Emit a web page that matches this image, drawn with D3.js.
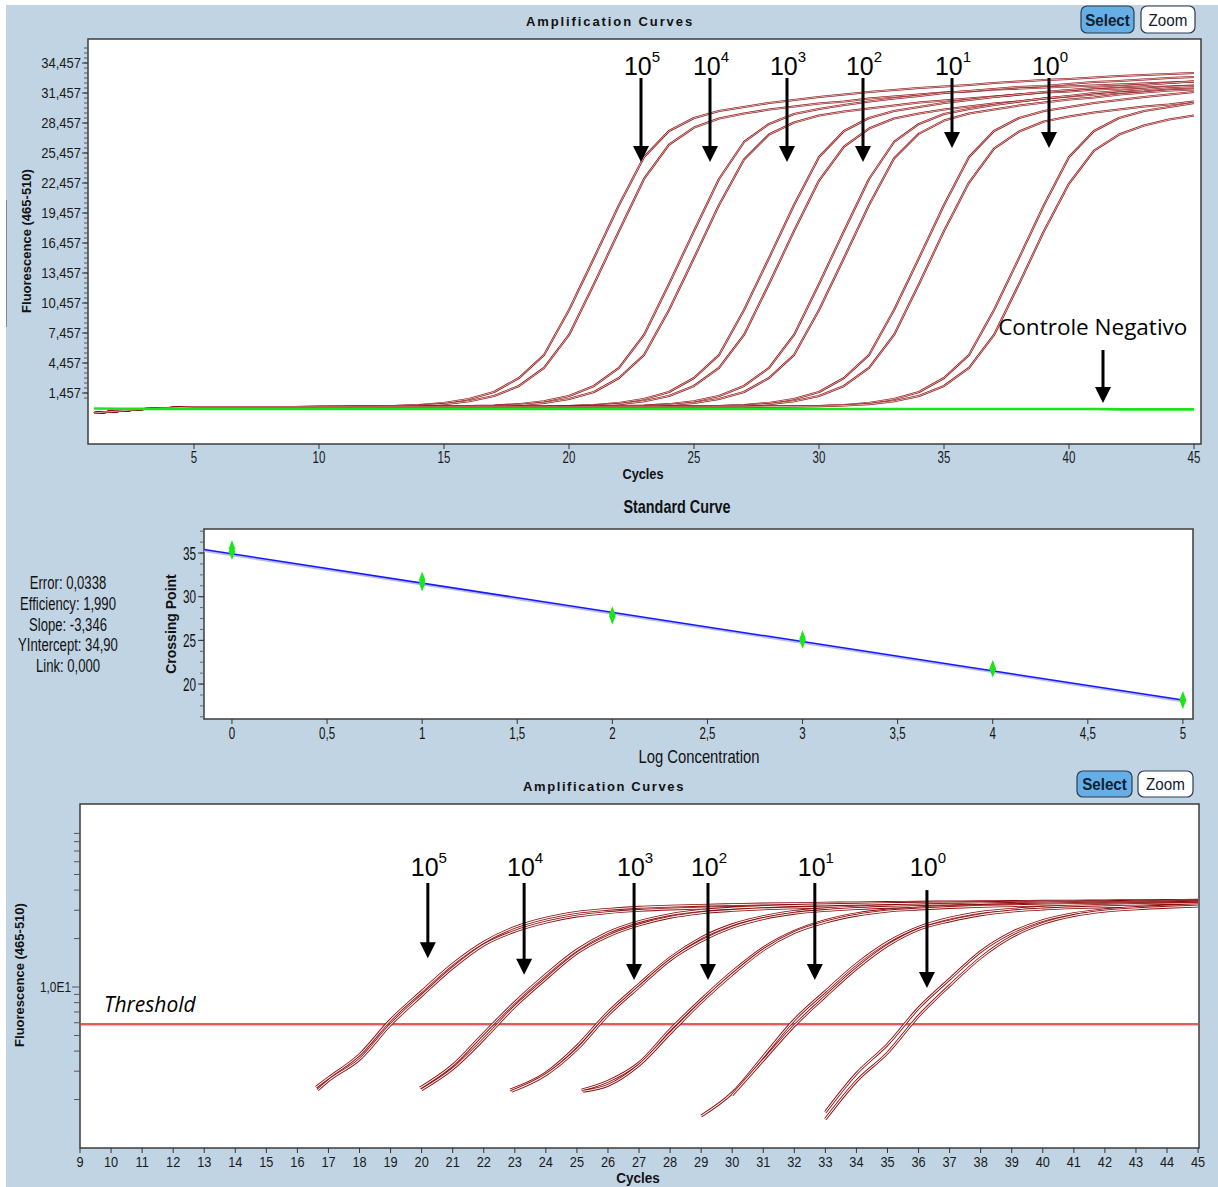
<!DOCTYPE html>
<html><head><meta charset="utf-8">
<script src="https://cdn.jsdelivr.net/npm/d3@7/dist/d3.min.js"></script>
<style>html,body{margin:0;padding:0;background:#fff;} svg{display:block;font-family:"Liberation Sans",Arial,sans-serif;}</style>
</head><body>
<svg id="chart" width="1218" height="1187"></svg>
<script>
// ---------------- DATA ----------------
const cycles = [1,2,3,4,5,6,7,8,9,10,11,12,13,14,15,16,17,18,19,20,21,22,23,24,25,26,27,28,29,30,31,32,33,34,35,36,37,38,39,40,41,42,43,44,45];

// Top panel: fluorescence (465-510) per cycle, two replicates per dilution
const top5a = [-540,-340,-140,-40,60,60,60,60,60,90,110,130,160,260,460,860,1560,2960,5260,9760,14960,20260,25060,27660,28960,29660,30060,30460,30760,31060,31310,31560,31760,31960,32110,32260,32460,32610,32760,32860,33010,33160,33260,33360,33460];
const top5b = [-540,-340,-140,-40,60,60,60,60,60,80,100,120,140,200,340,630,1160,2160,3960,7260,12360,17660,22860,26300,28000,28900,29400,29800,30100,30400,30600,30900,31100,31300,31500,31600,31800,31900,32000,32100,32200,32300,32400,32500,32600];
const top4a = [-540,-340,-140,-40,60,60,60,60,60,60,60,60,60,100,120,140,200,340,630,1160,2160,3960,7260,12360,17660,22860,26560,28360,29360,29860,30260,30610,30910,31160,31460,31660,31860,32060,32160,32360,32560,32660,32810,32960,33060];
const top4b = [-540,-340,-140,-40,60,60,60,60,60,60,60,60,60,90,110,130,160,260,460,860,1560,2960,5260,9760,14960,20260,24800,27300,28500,29200,29600,29900,30200,30500,30700,30900,31100,31300,31500,31600,31800,31900,32000,32100,32200];
const top3a = [-540,-340,-140,-40,60,60,60,60,60,60,60,60,60,60,60,60,90,110,130,160,260,460,860,1560,2960,5260,9760,14960,20260,25060,27660,28960,29660,30060,30460,30760,31060,31310,31560,31760,31960,32110,32260,32460,32610];
const top3b = [-540,-340,-140,-40,60,60,60,60,60,60,60,60,60,60,60,60,60,100,120,140,200,340,630,1160,2160,3960,7260,12360,17660,22700,26100,27900,28900,29400,29800,30100,30400,30600,30900,31100,31300,31500,31600,31800,31900];
const top2a = [-540,-340,-140,-40,60,60,60,60,60,60,60,60,60,60,60,60,60,60,60,100,120,140,200,340,630,1160,2160,3960,7260,12360,17660,22860,26560,28360,29360,29860,30260,30610,30910,31160,31460,31660,31860,32060,32160];
const top2b = [-540,-340,-140,-40,60,60,60,60,60,60,60,60,60,60,60,60,60,60,60,90,110,130,160,260,460,860,1560,2960,5260,9760,14960,20260,24900,27400,28700,29400,29800,30200,30500,30800,31000,31300,31500,31700,31800];
const top1a = [-540,-340,-140,-40,60,60,60,60,60,60,60,60,60,60,60,60,60,60,60,60,60,60,90,110,130,160,260,460,860,1560,2960,5260,9760,14960,20260,25060,27660,28960,29660,30060,30460,30760,31060,31310,31560];
const top1b = [-540,-340,-140,-40,60,60,60,60,60,60,60,60,60,60,60,60,60,60,60,60,60,60,60,100,120,140,200,340,630,1160,2160,3960,7260,12360,17660,22500,25900,27600,28600,29100,29500,29800,30100,30300,30600];
const top0a = [-540,-340,-140,-40,60,60,60,60,60,60,60,60,60,60,60,60,60,60,60,60,60,60,60,60,60,60,90,110,130,160,260,460,860,1560,2960,5260,9760,14960,20260,25060,27660,28960,29660,30060,30460];
const top0b = [-540,-340,-140,-40,60,60,60,60,60,60,60,60,60,60,60,60,60,60,60,60,60,60,60,60,60,60,60,100,120,140,200,340,630,1160,2160,3960,7260,12360,17660,22400,25700,27300,28200,28800,29200];
const negControl = [-100,-120,-130,-140,-140,-140,-140,-140,-140,-140,-140,-140,-140,-140,-140,-140,-140,-140,-140,-140,-140,-140,-140,-140,-140,-140,-140,-140,-140,-140,-140,-140,-140,-140,-140,-140,-140,-140,-140,-140,-150,-180,-180,-180,-180];
const topYTicks = [1457,4457,7457,10457,13457,16457,19457,22457,25457,28457,31457,34457];
const topXTicks = [5,10,15,20,25,30,35,40,45];
const dilutionExps = ["5","4","3","2","1","0"];

// Middle panel: standard curve
const stdLog = [0,0,1,1,2,2,3,3,4,4,5,5];
const stdCp  = [35.55,35.15,31.95,31.55,27.95,27.75,25.2,25.0,21.8,21.7,18.25,18.1];
const stdSlope = -3.346, stdIntercept = 34.90;
const stdStats = ["Error: 0,0338","Efficiency: 1,990","Slope: -3,346","YIntercept: 34,90","Link: 0,000"];
const stdXTicks = [0,0.5,1,1.5,2,2.5,3,3.5,4,4.5,5];
const stdYTicks = [20,25,30,35];

// Bottom panel: [cycle, fluorescence] on log scale
const bot5a = [[16.6,2.39],[17,2.73],[18,3.8],[19,6.26],[20,9.4],[21,13.9],[22,19.0],[23,23.5],[24,26.8],[25,29.1],[26,30.4],[27,31.3],[28,31.8],[29,32.2],[30,32.5],[31,32.8],[32,33.0],[33,33.2],[34,33.35],[35,33.5],[36,33.65],[37,33.8],[38,33.9],[39,34.0],[40,34.1],[41,34.2],[42,34.3],[43,34.4],[44,34.5],[45,34.6]];
const bot5b = [[16.65,2.29],[17,2.62],[18,3.55],[19,5.84],[20,8.84],[21,13.15],[22,18.25],[23,22.2],[24,25.3],[25,27.6],[26,29.0],[27,29.9],[28,30.5],[29,30.9],[30,31.2],[31,31.5],[32,31.7],[33,31.9],[34,32.0],[35,32.2],[36,32.3],[37,32.4],[38,32.5],[39,32.6],[40,32.7],[41,32.8],[42,32.9],[43,33.0],[44,33.1],[45,33.2]];
const bot4a = [[19.95,2.36],[21,3.27],[22,5.15],[23,8.04],[24,11.96],[25,17.0],[26,21.8],[27,25.5],[28,28.2],[29,29.95],[30,30.9],[31,31.6],[32,32.1],[33,32.4],[34,32.7],[35,32.95],[36,33.15],[37,33.3],[38,33.45],[39,33.6],[40,33.7],[41,33.85],[42,33.95],[43,34.05],[44,34.15],[45,34.25]];
const bot4b = [[20.0,2.3],[21,3.1],[22,4.74],[23,7.56],[24,11.24],[25,16.25],[26,20.7],[27,24.3],[28,27.1],[29,28.9],[30,29.9],[31,30.6],[32,31.0],[33,31.4],[34,31.7],[35,31.9],[36,32.1],[37,32.3],[38,32.4],[39,32.5],[40,32.7],[41,32.8],[42,32.9],[43,33.0],[44,33.1],[45,33.2]];
const bot3a = [[22.85,2.29],[24,2.93],[25,4.3],[26,6.97],[27,10.4],[28,15.2],[29,20.2],[30,24.4],[31,27.4],[32,29.5],[33,30.6],[34,31.4],[35,31.95],[36,32.3],[37,32.6],[38,32.85],[39,33.05],[40,33.25],[41,33.4],[42,33.55],[43,33.7],[44,33.85],[45,33.95]];
const bot3b = [[22.9,2.25],[24,2.85],[25,4.1],[26,6.69],[27,10.0],[28,14.7],[29,19.3],[30,23.5],[31,26.6],[32,28.7],[33,29.9],[34,30.7],[35,31.3],[36,31.6],[37,31.9],[38,32.2],[39,32.4],[40,32.6],[41,32.7],[42,32.9],[43,33.0],[44,33.2],[45,33.3]];
const bot2a = [[25.15,2.29],[26,2.6],[27,3.38],[28,5.43],[29,8.36],[30,12.44],[31,17.5],[32,22.2],[33,25.9],[34,28.5],[35,30.1],[36,31.0],[37,31.7],[38,32.1],[39,32.45],[40,32.75],[41,32.95],[42,33.15],[43,33.3],[44,33.45],[45,33.6]];
const bot2b = [[25.2,2.25],[26,2.45],[27,3.27],[28,5.15],[29,8.04],[30,11.96],[31,17.0],[32,21.8],[33,25.3],[34,27.9],[35,29.6],[36,30.5],[37,31.2],[38,31.7],[39,32.0],[40,32.3],[41,32.5],[42,32.7],[43,32.9],[44,33.0],[45,33.2]];
const bot1a = [[29.0,1.58],[30,2.2],[31,3.7],[32,6.26],[33,9.4],[34,13.9],[35,19.0],[36,23.5],[37,26.8],[38,29.1],[39,30.4],[40,31.3],[41,31.8],[42,32.2],[43,32.5],[44,32.8],[45,33.0]];
const bot1b = [[30.0,2.13],[31,3.51],[32,5.75],[33,8.74],[34,13.0],[35,18.1],[36,22.8],[37,25.7],[38,28.1],[39,29.6],[40,30.5],[41,31.1],[42,31.5],[43,31.8],[44,32.1],[45,32.3]];
const bot0a = [[33.0,1.67],[34,2.9],[35,4.4],[36,7.4],[37,11.2],[38,16.6],[39,21.8],[40,25.9],[41,28.6],[42,30.2],[43,31.2],[44,31.9],[45,32.4]];
const bot0b = [[33.0,1.51],[34,2.6],[35,3.9],[36,6.6],[37,10.2],[38,15.2],[39,20.5],[40,24.8],[41,27.8],[42,29.6],[43,30.6],[44,31.3],[45,31.8]];
const botXTicks = [9,10,11,12,13,14,15,16,17,18,19,20,21,22,23,24,25,26,27,28,29,30,31,32,33,34,35,36,37,38,39,40,41,42,43,44,45];
const botYTicks = [2,3,4,5,6,7,8,9,10,20,30,40,50,60,70,80,90];
const thresholdValue = 5.9;

// ---------------- DRAWING ----------------
const svg = d3.select("#chart");
const BG = "#c1d4e4", CURVE = "#8b0a0a", CORE = "#fdf2f2";
svg.append("rect").attr("x",6).attr("y",5).attr("width",1212).attr("height",1182).attr("fill",BG);
svg.append("line").attr("x1",6.5).attr("x2",6.5).attr("y1",200).attr("y2",327).attr("stroke","#8a8a8a");

function txt(g, x, y, s, size, opts={}) {
  const t = g.append("text")
    .attr("transform", `translate(${x},${y}) scale(${opts.sx||1},1)`)
    .attr("font-size", size)
    .attr("text-anchor", opts.anchor||"middle")
    .attr("font-weight", opts.bold?"bold":"normal")
    .attr("fill", opts.fill||"#111")
    .text(s);
  if (opts.ls) t.attr("letter-spacing", opts.ls);
  if (opts.italic) t.attr("font-style","italic");
  if (opts.family) t.attr("font-family", opts.family);
  return t;
}
function vtxt(g, x, y, s, size) {
  return g.append("text").attr("transform",`translate(${x},${y}) rotate(-90)`)
    .attr("font-size",size).attr("text-anchor","middle").attr("font-weight","bold").attr("fill","#111").text(s);
}
function tube(g, pts, line, wo, wi) {
  g.append("path").attr("d",line(pts)).attr("fill","none").attr("stroke",CURVE).attr("stroke-width",wo).attr("stroke-linejoin","round");
  g.append("path").attr("d",line(pts)).attr("fill","none").attr("stroke",CORE).attr("stroke-width",wi).attr("stroke-linejoin","round");
}
function arrow(g, x, yTop, yTip) {
  const hw = 8, hh = 16;
  g.append("line").attr("x1",x).attr("x2",x).attr("y1",yTop).attr("y2",yTip-hh+1).attr("stroke","#000").attr("stroke-width",3);
  g.append("path").attr("d",`M${x-hw},${yTip-hh}L${x+hw},${yTip-hh}L${x},${yTip}Z`).attr("fill","#000");
}
function powLabel(g, x, y, exp, size) {
  const t = g.append("text").attr("x",x).attr("y",y).attr("text-anchor","middle").attr("font-size",size).attr("fill","#000");
  t.append("tspan").text("10");
  t.append("tspan").attr("dy",-size*0.52).attr("font-size",size*0.6).text(exp);
}
function button(g, x, y, w, h, label, fill) {
  g.append("rect").attr("x",x).attr("y",y).attr("width",w).attr("height",h).attr("rx",6)
    .attr("fill",fill).attr("stroke","#2b3d50").attr("stroke-width",1.2);
  txt(g, x+w/2, y+h/2+6, label, 16, {fill:"#102030", sx:0.95, bold: fill!=="#fff"});
}

// ===== TOP PANEL =====
{
  const g = svg.append("g");
  const x = d3.scaleLinear().domain([0.76,45.28]).range([88,1201]);
  const y = d3.scaleLinear().domain([-3643,36857]).range([444,39]);
  g.append("rect").attr("x",88).attr("y",39).attr("width",1113).attr("height",405).attr("fill","#fff").attr("stroke","#3c3c3c").attr("stroke-width",1.5);
  txt(g, 610, 26, "Amplification Curves", 13, {bold:true, ls:1.9});
  button(g, 1081, 6, 53, 27, "Select", "#66aee6");
  button(g, 1141, 6, 54, 27, "Zoom", "#fff");
  const minor = d3.range(957, 36000, 500);
  minor.forEach(v => g.append("line").attr("x1",84).attr("x2",88).attr("y1",y(v)).attr("y2",y(v)).attr("stroke","#555"));
  topYTicks.forEach(v => {
    g.append("line").attr("x1",82).attr("x2",88).attr("y1",y(v)).attr("y2",y(v)).attr("stroke","#333");
    txt(g, 81, y(v)+5, d3.format(",")(v), 14, {anchor:"end", sx:0.93, fill:"#1a1a1a"});
  });
  topXTicks.forEach(c => {
    g.append("line").attr("x1",x(c)).attr("x2",x(c)).attr("y1",444).attr("y2",449).attr("stroke","#333");
    txt(g, x(c), 463, String(c), 16, {sx:0.72, fill:"#1a1a1a"});
  });
  txt(g, 643, 479, "Cycles", 15, {bold:true, sx:0.85});
  vtxt(g, 31, 241, "Fluorescence (465-510)", 13);

  g.append("clipPath").attr("id","clipTop").append("rect").attr("x",89).attr("y",40).attr("width",1111).attr("height",403);
  const pg = g.append("g").attr("clip-path","url(#clipTop)");
  const line = d3.line().x(d=>x(d[0])).y(d=>y(d[1]));
  const series = [top5a,top5b,top4a,top4b,top3a,top3b,top2a,top2b,top1a,top1b,top0a,top0b];
  series.forEach(s => tube(pg, cycles.map((c,i)=>[c,s[i]]), line, 2.1, 0.7));
  pg.append("path").attr("d", line(cycles.map((c,i)=>[c,negControl[i]]))).attr("fill","none").attr("stroke","#19e619").attr("stroke-width",2.6);

  const arrowCycles = [22.88,25.64,28.72,31.76,35.32,39.2];
  const tipValues = [24557,24557,24557,24557,25957,25957];
  arrowCycles.forEach((c,i) => {
    arrow(g, x(c), y(32957), y(tipValues[i]));
    powLabel(g, x(c)+1, y(33257), dilutionExps[i], 25);
  });
  txt(g, x(40.95), y(7257), "Controle Negativo", 22.5, {family:"'Open Sans', 'Noto Sans', sans-serif", fill:"#000"});
  arrow(g, x(41.36), y(5757), y(457));
}

// ===== MIDDLE PANEL =====
{
  const g = svg.append("g");
  const x = d3.scaleLinear().domain([-0.147,5.053]).range([204,1193]);
  const y = d3.scaleLinear().domain([16.0,37.75]).range([719,529]);
  g.append("rect").attr("x",204).attr("y",529).attr("width",989).attr("height",190).attr("fill","#fff").attr("stroke","#3c3c3c").attr("stroke-width",1.5);
  txt(g, 677, 513, "Standard Curve", 18, {bold:true, sx:0.8});
  stdStats.forEach((s,i) => txt(g, 68, 589+i*20.8, s, 19, {sx:0.69}));
  d3.range(16.25, 37.6, 1.25).forEach(v => g.append("line").attr("x1",200).attr("x2",204).attr("y1",y(v)).attr("y2",y(v)).attr("stroke","#666"));
  stdYTicks.forEach(v => {
    g.append("line").attr("x1",198).attr("x2",204).attr("y1",y(v)).attr("y2",y(v)).attr("stroke","#333");
    txt(g, 196, y(v)+6.5, String(v), 17.5, {anchor:"end", sx:0.67});
  });
  stdXTicks.forEach(v => {
    g.append("line").attr("x1",x(v)).attr("x2",x(v)).attr("y1",719).attr("y2",724).attr("stroke","#333");
    txt(g, x(v), 739, String(v).replace(".",","), 16.5, {sx:0.7});
  });
  txt(g, 699, 763, "Log Concentration", 18.5, {sx:0.8});
  vtxt(g, 176, 624, "Crossing Point", 14);
  const x0 = -0.147, x1 = 5;
  const fit = [[x0, stdIntercept + stdSlope*x0],[x1, stdIntercept + stdSlope*x1]];
  const line = d3.line().x(d=>x(d[0])).y(d=>y(d[1]));
  g.append("path").attr("d",line(fit)).attr("transform","translate(0,1.2)").attr("stroke","#b9bdf5").attr("stroke-width",2.4).attr("fill","none");
  g.append("path").attr("d",line(fit)).attr("stroke","#1717ff").attr("stroke-width",1.5).attr("fill","none");
  const diamond = d3.symbol().type(d3.symbolDiamond).size(60);
  stdLog.forEach((l,i) => g.append("path").attr("d",diamond())
    .attr("transform",`translate(${x(l)},${y(stdCp[i])}) scale(0.75,1.15)`).attr("fill","#19e619"));
}

// ===== BOTTOM PANEL =====
{
  const g = svg.append("g");
  const x = d3.scaleLinear().domain([9,45.03]).range([80,1199]);
  const y = d3.scaleLog().domain([1, Math.pow(10,2.137)]).range([1148,804]);
  g.append("rect").attr("x",80).attr("y",804).attr("width",1119).attr("height",344).attr("fill","#fff").attr("stroke","#3c3c3c").attr("stroke-width",1.5);
  txt(g, 604, 791, "Amplification Curves", 13, {bold:true, ls:1.6});
  button(g, 1077, 771, 55, 26, "Select", "#66aee6");
  button(g, 1138, 771, 55, 26, "Zoom", "#fff");
  botYTicks.forEach(v => {
    const major = v===10;
    g.append("line").attr("x1",major?72:74).attr("x2",80).attr("y1",y(v)).attr("y2",y(v)).attr("stroke","#555");
  });
  txt(g, 71, y(10)+5, "1,0E1", 14, {anchor:"end", sx:0.85, fill:"#1a1a1a"});
  botXTicks.forEach(c => {
    g.append("line").attr("x1",x(c)).attr("x2",x(c)).attr("y1",1148).attr("y2",1153).attr("stroke","#333");
    txt(g, x(c), 1167, String(c), 15, {sx:0.85, fill:"#1a1a1a"});
  });
  txt(g, 638, 1183, "Cycles", 15, {bold:true, sx:0.9});
  vtxt(g, 24, 975, "Fluorescence (465-510)", 13);

  g.append("clipPath").attr("id","clipBot").append("rect").attr("x",81).attr("y",805).attr("width",1117).attr("height",342);
  const pg = g.append("g").attr("clip-path","url(#clipBot)");
  pg.append("line").attr("x1",80).attr("x2",1199).attr("y1",y(thresholdValue)+1.5).attr("y2",y(thresholdValue)+1.5).attr("stroke","#a9d0e8").attr("stroke-width",1.5);
  pg.append("line").attr("x1",80).attr("x2",1199).attr("y1",y(thresholdValue)).attr("y2",y(thresholdValue)).attr("stroke","#d42a2a").attr("stroke-width",1.5);
  const line = d3.line().x(d=>x(d[0])).y(d=>y(d[1])).curve(d3.curveMonotoneX);
  [bot5a,bot5b,bot4a,bot4b,bot3a,bot3b,bot2a,bot2b,bot1a,bot1b,bot0a,bot0b].forEach(s => tube(pg, s, line, 2.8, 1.1));

  const arrowCycles = [20.2,23.3,26.84,29.22,32.66,36.27];
  const tipValues = [15.1,11.9,11.05,11.05,11.05,9.86];
  const topValues = [44.3,44.3,44.3,44.3,44.3,40];
  arrowCycles.forEach((c,i) => {
    arrow(g, x(c), y(topValues[i]), y(tipValues[i]));
    powLabel(g, x(c)+1, y(48.9), dilutionExps[i], 25);
  });
  txt(g, x(9.77), y(7.0), "Threshold", 21, {anchor:"start", italic:true, family:"'Open Sans', 'Noto Sans', sans-serif", fill:"#000"});
}
</script>
</body></html>
